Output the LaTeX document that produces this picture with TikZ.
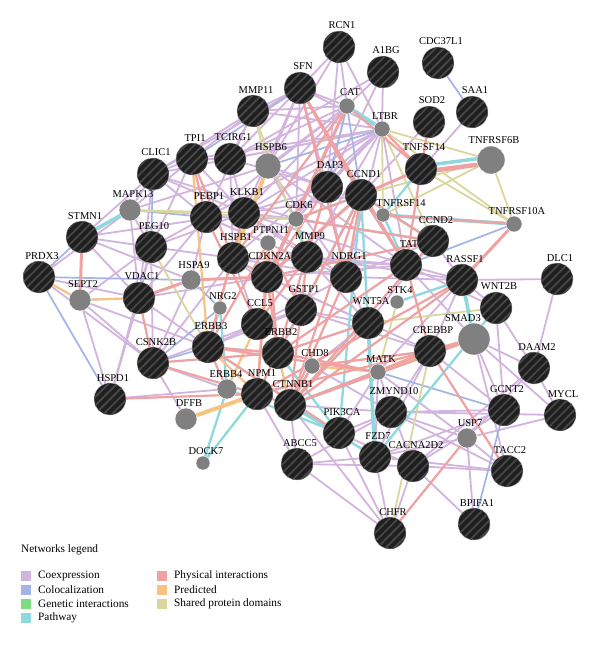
\documentclass[tikz,border=0pt]{standalone}
\usepackage{fontspec}
\setmainfont{Liberation Serif}
\usetikzlibrary{backgrounds,patterns.meta}
\definecolor{coexc}{HTML}{D2B4DE}
\definecolor{colocc}{HTML}{A4B4E4}
\definecolor{genc}{HTML}{7EDC82}
\definecolor{pathc}{HTML}{8ED8DE}
\definecolor{physc}{HTML}{F0A2A2}
\definecolor{predc}{HTML}{F8C380}
\definecolor{domc}{HTML}{DAD79E}
\definecolor{nodegray}{HTML}{808080}
\begin{document}
\begin{tikzpicture}[x=1pt,y=-1pt,
  label distance=1.5pt,
  every label/.style={font=\fontsize{10.5}{12}\selectfont,inner sep=0pt,xshift=3pt,text=black},
  bn/.style={circle,minimum size=32pt,inner sep=0pt,fill=black!88,draw=white!80!black,line width=0.4pt,
     postaction={pattern={Lines[angle=45,distance=6pt,line width=1.8pt]},pattern color=black!72}},
  gn/.style={circle,minimum size=#1,inner sep=0pt,fill=nodegray,draw=white,line width=0.4pt},
  coex/.style={coexc,line width=1.8pt},
  coloc/.style={colocc,line width=1.7pt},
  gen/.style={genc,line width=1.7pt},
  pathw/.style={pathc,line width=2.3pt},
  phys/.style={physc,line width=2.2pt},
  pred/.style={predc,line width=2.2pt},
  dom/.style={domc,line width=1.8pt},
  swatch/.style={minimum size=10pt,inner sep=0pt},
  legtext/.style={font=\fontsize{11.3}{13}\selectfont,inner sep=0pt,anchor=west}
]
\path[use as bounding box] (0,0) rectangle (600,645);
% ---------- nodes ----------
\node[bn,label=above:RCN1] (RCN1) at (339,47) {};
\node[bn,label=above:A1BG] (A1BG) at (383,72) {};
\node[bn,label=above:CDC37L1] (CDC37L1) at (438,63) {};
\node[bn,label=above:SAA1] (SAA1) at (472,112) {};
\node[bn,label=above:SOD2] (SOD2) at (429,122) {};
\node[bn,label=above:SFN] (SFN) at (300,88) {};
\node[gn=16pt,label=above:CAT] (CAT) at (347,106) {};
\node[gn=16pt,label=above:LTBR] (LTBR) at (382,129) {};
\node[bn,label=above:TNFSF14] (TNFSF14) at (421,169) {};
\node[gn=28pt,label=above:TNFRSF6B] (TNFRSF6B) at (491,160) {};
\node[bn,label=above:MMP11] (MMP11) at (253,111) {};
\node[bn,label=above:TPI1] (TPI1) at (192,159) {};
\node[bn,label=above:TCIRG1] (TCIRG1) at (230,159) {};
\node[bn,label=above:CLIC1] (CLIC1) at (153,174) {};
\node[gn=26pt,label=above:HSPB6] (HSPB6) at (268,166) {};
\node[gn=22pt,label=above:MAPK13] (MAPK13) at (130,210) {};
\node[bn,label=above:PEBP1] (PEBP1) at (206,217) {};
\node[bn,label=above:KLKB1] (KLKB1) at (244,213) {};
\node[gn=16pt,label=above:CDK6] (CDK6) at (296,219) {};
\node[bn,label=above:DAP3] (DAP3) at (327,187) {};
\node[bn,label=above:CCND1] (CCND1) at (361,195) {};
\node[gn=14pt,label={[xshift=15pt]above:TNFRSF14}] (TNFRSF14) at (383,215) {};
\node[gn=16pt,label=above:TNFRSF10A] (TNFRSF10A) at (514,224) {};
\node[gn=16pt,label=above:PTPN11] (PTPN11) at (268,243) {};
\node[bn,label=above:HSPB1] (HSPB1) at (233,258) {};
\node[bn,label=above:MMP9] (MMP9) at (307,257) {};
\node[bn,label=above:CDKN2A] (CDKN2A) at (267,277) {};
\node[bn,label=above:NDRG1] (NDRG1) at (346,277) {};
\node[bn,label=above:TAT] (TAT) at (406,265) {};
\node[bn,label=above:CCND2] (CCND2) at (433,241) {};
\node[bn,label=above:RASSF1] (RASSF1) at (462,280) {};
\node[bn,label=above:DLC1] (DLC1) at (557,279) {};
\node[bn,label=above:WNT2B] (WNT2B) at (496,308) {};
\node[gn=14pt,label=above:STK4] (STK4) at (397,302) {};
\node[bn,label=above:WNT5A] (WNT5A) at (368,323) {};
\node[gn=32pt,label={[xshift=-14pt]above:SMAD3}] (SMAD3) at (474,339) {};
\node[bn,label=above:CREBBP] (CREBBP) at (430,351) {};
\node[bn,label=above:DAAM2] (DAAM2) at (534,368) {};
\node[gn=16pt,label=above:MATK] (MATK) at (378,372) {};
\node[gn=16pt,label=above:CHD8] (CHD8) at (312,366) {};
\node[bn,label=above:GSTP1] (GSTP1) at (301,310) {};
\node[gn=14pt,label=above:NRG2] (NRG2) at (220,308) {};
\node[gn=20pt,label=above:HSPA9] (HSPA9) at (191,280) {};
\node[bn,label=above:CCL5] (CCL5) at (257,324) {};
\node[bn,label=above:ERBB3] (ERBB3) at (208,347) {};
\node[bn,label=above:ERBB2] (ERBB2) at (278,353) {};
\node[gn=20pt,label={[xshift=-4pt]above:ERBB4}] (ERBB4) at (227,389) {};
\node[bn,label={[xshift=2pt]above:NPM1}] (NPM1) at (257,394) {};
\node[bn,label=above:CTNNB1] (CTNNB1) at (290,405) {};
\node[gn=22pt,label=above:DFFB] (DFFB) at (186,419) {};
\node[gn=14pt,label=above:DOCK7] (DOCK7) at (203,463) {};
\node[bn,label=above:PIK3CA] (PIK3CA) at (339,433) {};
\node[bn,label=above:ABCC5] (ABCC5) at (297,464) {};
\node[bn,label=above:FZD7] (FZD7) at (375,457) {};
\node[bn,label=above:CACNA2D2] (CACNA2D2) at (413,466) {};
\node[bn,label=above:ZMYND10] (ZMYND10) at (391,412) {};
\node[gn=20pt,label=above:USP7] (USP7) at (467,438) {};
\node[bn,label=above:GCNT2] (GCNT2) at (504,410) {};
\node[bn,label=above:MYCL] (MYCL) at (560,415) {};
\node[bn,label=above:TACC2] (TACC2) at (507,471) {};
\node[bn,label=above:BPIFA1] (BPIFA1) at (474,524) {};
\node[bn,label=above:CHFR] (CHFR) at (390,533) {};
\node[bn,label=above:STMN1] (STMN1) at (82,237) {};
\node[bn,label=above:PEG10] (PEG10) at (151,247) {};
\node[bn,label=above:PRDX3] (PRDX3) at (39,277) {};
\node[gn=22pt,label=above:SEPT2] (SEPT2) at (80,300) {};
\node[bn,label=above:VDAC1] (VDAC1) at (139,298) {};
\node[bn,label=above:CSNK2B] (CSNK2B) at (153,363) {};
\node[bn,label=above:HSPD1] (HSPD1) at (110,399) {};
% ---------- edges ----------
\begin{scope}[on background layer]
\fill[white] (0,0) rectangle (600,645);
% coexpression
\foreach \a/\b in {RCN1/CAT,RCN1/SFN,RCN1/LTBR,RCN1/DAP3,RCN1/HSPB6,A1BG/CAT,A1BG/LTBR,A1BG/TCIRG1,A1BG/DAP3,
 SFN/MMP11,SFN/TCIRG1,SFN/CLIC1,SFN/KLKB1,SFN/HSPB6,SFN/LTBR,SFN/CAT,SFN/DAP3,SFN/CDK6,
 MMP11/TPI1,MMP11/TCIRG1,MMP11/CLIC1,MMP11/CAT,MMP11/LTBR,MMP11/PEBP1,
 TPI1/CLIC1,TPI1/TCIRG1,TPI1/LTBR,TPI1/KLKB1,TPI1/PEG10,TPI1/MAPK13,
 TCIRG1/LTBR,TCIRG1/KLKB1,TCIRG1/CAT,TCIRG1/DAP3,TCIRG1/HSPB1,
 CLIC1/PEBP1,CLIC1/KLKB1,CLIC1/MAPK13,CLIC1/STMN1,CLIC1/CDK6,CLIC1/VDAC1,CLIC1/LTBR,
 MAPK13/PEG10,MAPK13/HSPB6,MAPK13/VDAC1,MAPK13/PRDX3,
 STMN1/PEG10,STMN1/VDAC1,STMN1/HSPA9,STMN1/KLKB1,PRDX3/VDAC1,PRDX3/CSNK2B,
 PEG10/KLKB1,PEG10/PEBP1,PEG10/VDAC1,PEG10/CSNK2B,PEG10/HSPB1,PEG10/SEPT2,PEG10/HSPD1,
 VDAC1/ERBB3,VDAC1/HSPD1,VDAC1/CDKN2A,VDAC1/PEBP1,SEPT2/HSPD1,SEPT2/CSNK2B,SEPT2/ERBB3,
 CSNK2B/HSPA9,CSNK2B/ERBB4,CSNK2B/CCL5,CSNK2B/HSPB1,CSNK2B/DFFB,HSPD1/ERBB4,
 LTBR/KLKB1,LTBR/PEBP1,LTBR/HSPB1,LTBR/CDK6,LTBR/PTPN11,LTBR/NDRG1,LTBR/TAT,LTBR/MMP9,LTBR/DAP3,
 CAT/KLKB1,CAT/PEBP1,CAT/HSPB6,CAT/DAP3,CAT/CDK6,SOD2/CCND1,SAA1/TNFSF14,
 DAP3/HSPB6,DAP3/KLKB1,DAP3/CDK6,DAP3/NDRG1,DAP3/MMP9,HSPB6/CDK6,HSPB6/NDRG1,HSPB6/TAT,
 KLKB1/CDK6,KLKB1/MMP9,KLKB1/NDRG1,KLKB1/TAT,KLKB1/CCND1,PEBP1/CDK6,PEBP1/HSPA9,PEBP1/PTPN11,PEBP1/NDRG1,
 HSPB1/NDRG1,HSPB1/TAT,HSPB1/GSTP1,HSPB1/CCL5,MMP9/TAT,MMP9/RASSF1,MMP9/WNT5A,
 CDKN2A/TAT,CDKN2A/WNT5A,CDKN2A/CREBBP,NDRG1/RASSF1,NDRG1/WNT5A,NDRG1/CCND2,
 TAT/RASSF1,TAT/WNT2B,TAT/SMAD3,CCND2/RASSF1,CCND2/WNT5A,
 RASSF1/DLC1,RASSF1/WNT2B,RASSF1/CREBBP,RASSF1/MATK,DLC1/DAAM2,WNT2B/DAAM2,WNT2B/GCNT2,
 SMAD3/DAAM2,SMAD3/GCNT2,SMAD3/MYCL,SMAD3/TACC2,DAAM2/MYCL,DAAM2/USP7,DAAM2/CACNA2D2,
 CREBBP/ZMYND10,CREBBP/FZD7,CREBBP/GCNT2,MATK/FZD7,MATK/CACNA2D2,MATK/PIK3CA,MATK/USP7,
 ZMYND10/USP7,ZMYND10/GCNT2,ZMYND10/TACC2,ZMYND10/ABCC5,ZMYND10/MYCL,
 USP7/MYCL,USP7/TACC2,USP7/FZD7,GCNT2/FZD7,GCNT2/CACNA2D2,
 CACNA2D2/TACC2,CACNA2D2/BPIFA1,CACNA2D2/PIK3CA,FZD7/ABCC5,FZD7/CHFR,FZD7/TACC2,
 PIK3CA/CHFR,PIK3CA/ZMYND10,ABCC5/CHFR,ABCC5/NPM1,ABCC5/CTNNB1,ABCC5/CACNA2D2,
 CHFR/CTNNB1,CHFR/CACNA2D2,BPIFA1/USP7,ERBB3/CCL5,ERBB3/GSTP1,
 CCL5/GSTP1,CCL5/NDRG1,ERBB2/WNT5A,ERBB2/MATK,CTNNB1/ZMYND10,CTNNB1/FZD7,
 GSTP1/WNT5A,GSTP1/CREBBP,CHD8/ZMYND10,CHD8/WNT5A}
  \draw[coex] (\a.center) -- (\b.center);
% colocalization
\foreach \a/\b in {CDC37L1/SAA1,PRDX3/STMN1,PRDX3/HSPD1,PRDX3/HSPA9,CSNK2B/ERBB3,CSNK2B/NRG2,
 CAT/CCND1,TNFRSF10A/TAT,GCNT2/BPIFA1,MATK/GCNT2,TPI1/SFN,CLIC1/PEG10,HSPA9/NRG2,
 SEPT2/VDAC1,DAP3/CAT,SMAD3/MATK,MAPK13/PEBP1,LTBR/HSPB6}
  \draw[coloc] (\a.center) -- (\b.center);
% shared protein domains
\foreach \a/\b in {LTBR/TNFRSF6B,TNFRSF6B/TNFRSF10A,TNFRSF6B/TNFRSF14,TNFSF14/TNFRSF10A,
 LTBR/TNFRSF10A,LTBR/TNFRSF14,TNFRSF6B/CCND1,WNT5A/WNT2B,PEG10/ERBB3,MAPK13/KLKB1,
 MMP11/HSPB6,MMP11/MMP9,CCND1/CCND2,CHFR/CREBBP,STK4/MATK,MAPK13/CDK6,LTBR/CCND2}
  \draw[dom] (\a.center) -- (\b.center);
% pathway
\foreach \a/\b in {TNFSF14/TNFRSF14,DOCK7/ERBB4,DOCK7/NPM1,CTNNB1/WNT5A,CTNNB1/SMAD3,
 CTNNB1/FZD7,CTNNB1/CREBBP,PIK3CA/ERBB2,PIK3CA/ERBB3,PIK3CA/ERBB4,PIK3CA/CCND1,
 CCND1/CDK6,CCND1/CCND2,CCND1/TAT,CCND1/CDKN2A,CCND2/CDK6,WNT2B/FZD7,WNT5A/CCND1,
 SMAD3/CREBBP,ERBB2/ERBB3,ERBB3/NRG2,NRG2/ERBB4,ERBB2/CCND1,MMP9/CDK6,CDK6/CDKN2A,
 MATK/CTNNB1,CHD8/CTNNB1,STK4/RASSF1,TNFRSF14/TAT}
  \draw[pathw] (\a.center) -- (\b.center);
\foreach \a/\b in {STMN1/MAPK13,CAT/LTBR,RASSF1/SMAD3,TNFRSF14/TNFRSF10A,CTNNB1/PIK3CA,WNT5A/FZD7}
  \draw[pathw,line width=3.6pt] (\a.center) -- (\b.center);
% predicted
\foreach \a/\b in {PRDX3/SEPT2,TPI1/ERBB3,NPM1/ERBB3,CTNNB1/ERBB2,CCL5/ERBB4,KLKB1/ERBB3,
 ERBB2/CDKN2A,PTPN11/NPM1,MATK/CHD8,SEPT2/VDAC1}
  \draw[pred] (\a.center) -- (\b.center);
\foreach \a/\b in {HSPB6/HSPB1,DFFB/NPM1,CREBBP/MATK,CREBBP/SMAD3}
  \draw[pred,line width=4pt] (\a.center) -- (\b.center);
% genetic interactions
\foreach \a/\b in {MATK/CTNNB1,CHD8/CREBBP}
  \draw[gen] (\a.center) -- (\b.center);
% physical interactions
\foreach \a/\b in {VDAC1/CSNK2B,HSPD1/NPM1,CSNK2B/NPM1,CSNK2B/ERBB2,CAT/HSPB1,SFN/TAT,SFN/NDRG1,
 CAT/TNFSF14,TNFSF14/TAT,SOD2/TNFSF14,LTBR/TNFSF14,TNFRSF14/TNFRSF10A,
 CCND1/CCND2,CCND1/GSTP1,CCND1/CTNNB1,CCND1/TAT,CCND1/NDRG1,DAP3/CDKN2A,DAP3/ERBB2,
 TPI1/PEBP1,TPI1/HSPB1,PEBP1/CCL5,KLKB1/ERBB3,CDK6/CCND1,CDK6/CDKN2A,CDK6/CCND2,
 PTPN11/ERBB2,PTPN11/ERBB3,PTPN11/GSTP1,MMP9/CTNNB1,MMP9/CCL5,CDKN2A/CCND2,CDKN2A/NPM1,
 CDKN2A/ERBB2,NDRG1/CTNNB1,TAT/CREBBP,TAT/ERBB2,CCND2/CTNNB1,RASSF1/NPM1,RASSF1/CTNNB1,
 CREBBP/CTNNB1,CREBBP/TACC2,CREBBP/NPM1,SMAD3/CTNNB1,MATK/ERBB2,MATK/ERBB3,CHD8/CTNNB1,
 CHD8/CREBBP,USP7/CHFR,ERBB2/ERBB3,ERBB2/NPM1,ERBB3/ERBB4,NPM1/CTNNB1,WNT5A/ERBB2,
 WNT5A/CTNNB1,GSTP1/ERBB2,PIK3CA/ERBB3,HSPB1/CDKN2A}
  \draw[phys] (\a.center) -- (\b.center);
\foreach \a/\b in {STMN1/SEPT2,VDAC1/HSPA9,HSPA9/CDKN2A,CAT/CDKN2A,SFN/CCND1,TNFSF14/CCND1,
 TNFRSF10A/RASSF1,CCND1/CDKN2A,CREBBP/SMAD3}
  \draw[phys,line width=3pt] (\a.center) -- (\b.center);
\draw[physc,line width=4.5pt] ([yshift=-3pt]TNFSF14.center) -- ([yshift=-3pt]TNFRSF6B.center);
\draw[pathc,line width=3.5pt] ([yshift=3pt]TNFSF14.center) -- ([yshift=3pt]TNFRSF6B.center);
\end{scope}
% ---------- legend ----------
\node[font=\fontsize{11.3}{13}\selectfont,inner sep=0pt,anchor=west] (leg) at (21,550) {Networks legend};
\node[swatch,fill=coexc] (s1) at (26,576) {};
\node[legtext] (t1) at (38,576) {Coexpression};
\node[swatch,fill=colocc] (s2) at (26,590) {};
\node[legtext] (t2) at (38,590) {Colocalization};
\node[swatch,fill=genc] (s3) at (26,604) {};
\node[legtext] (t3) at (38,604) {Genetic interactions};
\node[swatch,fill=pathc] (s4) at (26,618) {};
\node[legtext] (t4) at (38,618) {Pathway};
\node[swatch,fill=physc] (s5) at (162,576) {};
\node[legtext] (t5) at (174,576) {Physical interactions};
\node[swatch,fill=predc] (s6) at (162,590) {};
\node[legtext] (t6) at (174,590) {Predicted};
\node[swatch,fill=domc] (s7) at (162,604) {};
\node[legtext] (t7) at (174,604) {Shared protein domains};
\end{tikzpicture}
\end{document}
